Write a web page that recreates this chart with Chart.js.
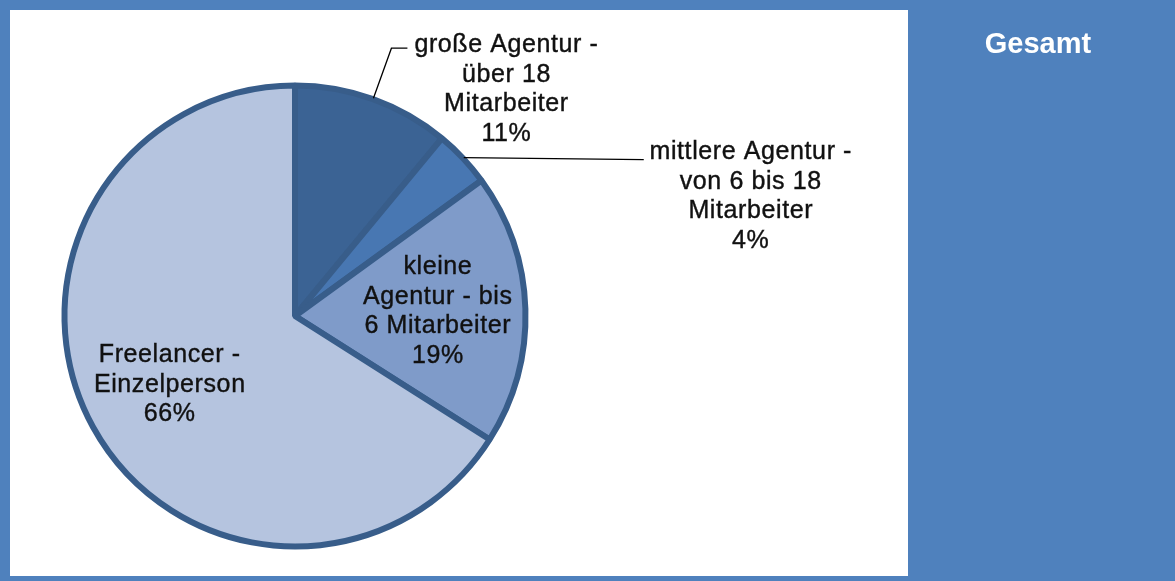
<!DOCTYPE html>
<html>
<head>
<meta charset="utf-8">
<script src="https://cdn.jsdelivr.net/npm/chart.js@4"></script>
<style>
  html, body { margin: 0; padding: 0; background: #4f81bd; }
  #wrap { position: relative; width: 1175px; height: 581px; }
  #panel { position: absolute; left: 10px; top: 10px; width: 898px; height: 566px; background: #fff; }
  #c { position: absolute; left: 0; top: 0; }
</style>
</head>
<body>
<div id="wrap">
  <div id="panel"></div>
  <canvas id="c" width="1175" height="581"></canvas>
</div>
<script>
const categories = [
    'große Agentur - über 18 Mitarbeiter',
    'mittlere Agentur - von 6 bis 18 Mitarbeiter',
    'kleine Agentur - bis 6 Mitarbeiter',
    'Freelancer - Einzelperson'
];
const labelLines = [
    ['große Agentur -', 'über 18', 'Mitarbeiter'],
    ['mittlere Agentur -', 'von 6 bis 18', 'Mitarbeiter'],
    ['kleine', 'Agentur - bis', '6 Mitarbeiter'],
    ['Freelancer -', 'Einzelperson']
];
const shares = [11, 4, 19, 66];
const sliceColors = ['#3b6394', '#4877b2', '#7f9bc9', '#b5c4df'];
const chartTitle = 'Gesamt';

// where the labels go: inside ones sit on the slice, outside ones get a leader line
const labelPlace = [
    {outside: true, dx: 133, dy: -53, bend: [18, -50], end: [34, -50]},
    {outside: true, dx: 287, dy: -5, bend: [180, 2], end: [180, 2]},
    {outside: false, r: 0.62},
    {outside: false, r: 0.62}
];

const labelPlugin = {
    id: 'sliceLabels',
    afterDatasetsDraw(chart) {
        const ctx = chart.ctx;
        const arcs = chart.getDatasetMeta(0).data;
        ctx.save();
        ctx.font = '25px "Liberation Sans", Arial, sans-serif';
        ctx.letterSpacing = '0.6px';
        ctx.textAlign = 'center';
        ctx.textBaseline = 'middle';
        const lh = 29.5;
        arcs.forEach((arc, i) => {
            const p = arc.getProps(['x', 'y', 'startAngle', 'endAngle', 'outerRadius'], true);
            const mid = (p.startAngle + p.endAngle) / 2;
            const lines = labelLines[i].concat([shares[i] + '%']);
            const place = labelPlace[i];
            let cx, cy;
            if (place.outside) {
                const ox = p.x + Math.cos(mid) * (p.outerRadius + 1);
                const oy = p.y + Math.sin(mid) * (p.outerRadius + 1);
                ctx.strokeStyle = '#000';
                ctx.lineWidth = 1.3;
                ctx.beginPath();
                ctx.moveTo(ox, oy);
                ctx.lineTo(ox + place.bend[0], oy + place.bend[1]);
                ctx.lineTo(ox + place.end[0], oy + place.end[1]);
                ctx.stroke();
                cx = ox + place.dx;
                cy = oy + place.dy;
            } else {
                cx = p.x + Math.cos(mid) * p.outerRadius * place.r;
                cy = p.y + Math.sin(mid) * p.outerRadius * place.r - lh * (lines.length - 1) / 2;
            }
            ctx.fillStyle = '#111';
            ctx.strokeStyle = '#111';
            ctx.lineWidth = 0.4;
            lines.forEach((t, k) => {
                ctx.fillText(t, cx, cy + k * lh);
                ctx.strokeText(t, cx, cy + k * lh);
            });
        });
        ctx.font = 'bold 29px "Liberation Sans", Arial, sans-serif';
        ctx.letterSpacing = '0px';
        ctx.fillStyle = '#fff';
        ctx.fillText(chartTitle, 1038, 45);
        ctx.restore();
    }
};

const chart = new Chart(document.getElementById('c'), {
    type: 'pie',
    data: {
        labels: categories,
        datasets: [{
            data: shares,
            backgroundColor: sliceColors,
            borderColor: '#385d8a',
            borderWidth: 6
        }]
    },
    options: {
        responsive: false,
        animation: false,
        layout: {padding: {left: 61.5, top: 82.5, right: 646.5, bottom: 31.5}},
        plugins: {
            legend: {display: false},
            tooltip: {enabled: false}
        }
    },
    plugins: [labelPlugin]
});
</script>
</body>
</html>
